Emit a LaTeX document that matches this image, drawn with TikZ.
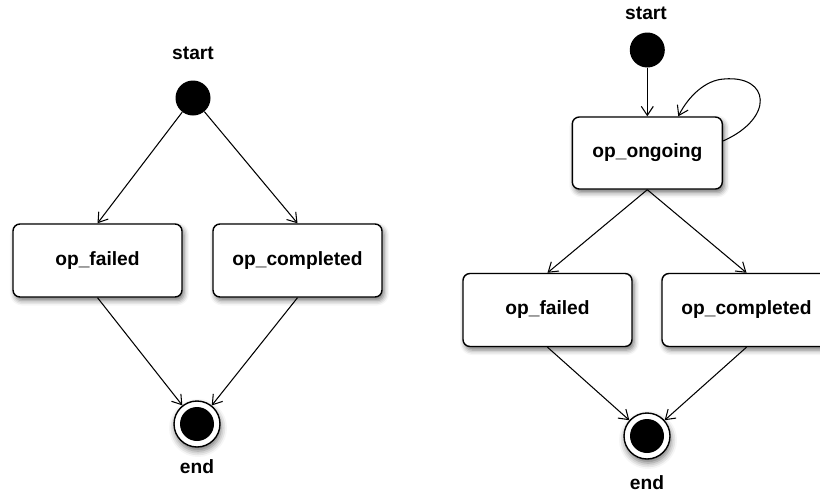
\documentclass[tikz,border=0pt]{standalone}
\usepackage{fontspec}
\setmainfont{Liberation Sans}
\usetikzlibrary{arrows.meta,shadows.blur}

\tikzset{
  lbl/.style={font=\fontsize{19.2}{23}\selectfont\bfseries, inner sep=0pt},
  state/.style={draw, line width=1.4pt, rounded corners=7pt, fill=white,
    minimum width=169pt, minimum height=73pt, inner sep=0pt,
    font=\fontsize{19.2}{23}\selectfont\bfseries,
    blur shadow={shadow xshift=2pt, shadow yshift=-3.5pt, shadow blur radius=5pt, shadow opacity=55}},
  initial/.style={circle, fill=black, minimum size=35pt, inner sep=0pt},
  final/.style={circle, draw, line width=1.4pt, fill=white, minimum size=46pt, inner sep=0pt,
    blur shadow={shadow xshift=1pt, shadow yshift=-4pt, shadow blur radius=6pt, shadow opacity=55},
    path picture={\fill[black] (path picture bounding box.center) circle (17pt);}},
  trans/.style={line width=1.05pt, -{Straight Barb[length=9pt,width=12pt,line width=1.05pt]}}
}

\begin{document}
\begin{tikzpicture}[x=1pt,y=-1pt]
\useasboundingbox (0,0) rectangle (820,496);

% left machine
\node[lbl] (startA) at (193,53.5) {start};
\node[initial] (s1) at (193,98) {};
\node[state] (lf) at (97.5,260.5) {op\_failed};
\node[state] (lc) at (297.5,260.5) {op\_completed};
\node[final] (e1) at (197,424) {};
\node[lbl] (endA) at (197,467) {end};

\draw[trans] (s1) -- (lf.north);
\draw[trans] (s1) -- (lc.north);
\draw[trans] (lf.south) -- (e1);
\draw[trans] (lc.south) -- (e1);

% right machine
\node[lbl] (startB) at (646,13.5) {start};
\node[initial] (s2) at (647.3,50) {};
\node[state, minimum width=150pt, minimum height=72pt] (ong) at (647.3,153) {op\_ongoing};
\node[state] (rf) at (547.5,310) {op\_failed};
\node[state] (rc) at (746.5,310) {op\_completed};
\node[final] (e2) at (647,436) {};
\node[lbl] (endB) at (647,483) {end};

\draw[trans] (s2) -- (ong.north);
\draw[trans] ([yshift=12pt]ong.east) .. controls (775,118) and (770,75) .. (724,79)
  .. controls (705,80) and (688,97) .. ([xshift=31pt]ong.north);
\draw[trans] (ong.south) -- (rf.north);
\draw[trans] (ong.south) -- (rc.north);
\draw[trans] (rf.south) -- (e2);
\draw[trans] (rc.south) -- (e2);
\end{tikzpicture}
\end{document}
